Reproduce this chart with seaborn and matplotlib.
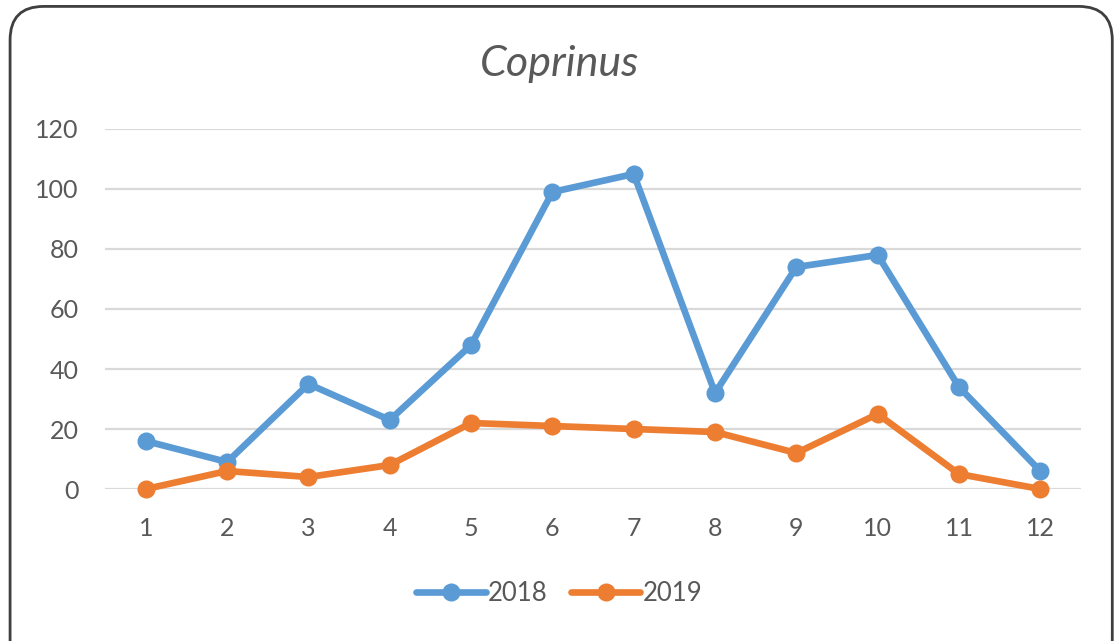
import pandas as pd
import matplotlib
matplotlib.use('Agg')
import matplotlib.pyplot as plt
import seaborn as sns
from matplotlib.patches import FancyBboxPatch

# Data
months = list(range(1, 13))
values_2018 = [16, 9, 35, 23, 48, 99, 105, 32, 74, 78, 34, 6]
values_2019 = [0, 6, 4, 8, 22, 21, 20, 19, 12, 25, 5, 0]
years = ['2018', '2019']
y_ticks = [0, 20, 40, 60, 80, 100, 120]

df = pd.DataFrame({
    'month': months * 2,
    'value': values_2018 + values_2019,
    'year': [years[0]] * 12 + [years[1]] * 12,
})

sns.set_theme(style='white')
plt.rcParams['font.family'] = ['Lato', 'DejaVu Sans']

text_color = '#595959'
palette = {'2018': '#5B9BD5', '2019': '#ED7D31'}

fig = plt.figure(figsize=(11.19, 6.41), dpi=100)
ax = fig.add_axes([0.094, 0.2371, 0.872, 0.5617])

# rounded chart border
frame = FancyBboxPatch((0.009, -0.05), 0.985, 1.04,
                       boxstyle='round,pad=0,rounding_size=0.03',
                       transform=fig.transFigure, facecolor='white',
                       edgecolor='#3f3f3f', linewidth=2, zorder=-10,
                       mutation_aspect=1119 / 641)
fig.patches.append(frame)

sns.lineplot(data=df, x='month', y='value', hue='year', palette=palette,
             marker='o', markersize=13, markeredgewidth=0, linewidth=4.8,
             ax=ax, clip_on=False)

ax.set_xlim(0.5, 12.5)
ax.set_ylim(0, 120)
ax.set_xticks(months)
ax.set_yticks(y_ticks)
ax.tick_params(axis='both', length=0, labelsize=18, labelcolor=text_color)
ax.tick_params(axis='x', pad=20)
ax.tick_params(axis='y', pad=19)
ax.set_xlabel('')
ax.set_ylabel('')
ax.yaxis.grid(True, color='#D9D9D9', linewidth=1.6)
ax.set_axisbelow(True)
for s in ax.spines.values():
    s.set_visible(False)
ax.patch.set_alpha(0)

fig.text(0.5, 0.9, 'Coprinus', ha='center', va='center',
         fontsize=31, style='italic', color=text_color)

handles, labels = ax.get_legend_handles_labels()
ax.get_legend().remove()
fig.legend(handles, labels, loc='center', bbox_to_anchor=(0.5, 0.074),
           ncol=2, frameon=False, fontsize=18.5, labelcolor=text_color,
           handlelength=2.7, columnspacing=0.9, handletextpad=0.1)

fig.savefig('out.png', dpi=100)
